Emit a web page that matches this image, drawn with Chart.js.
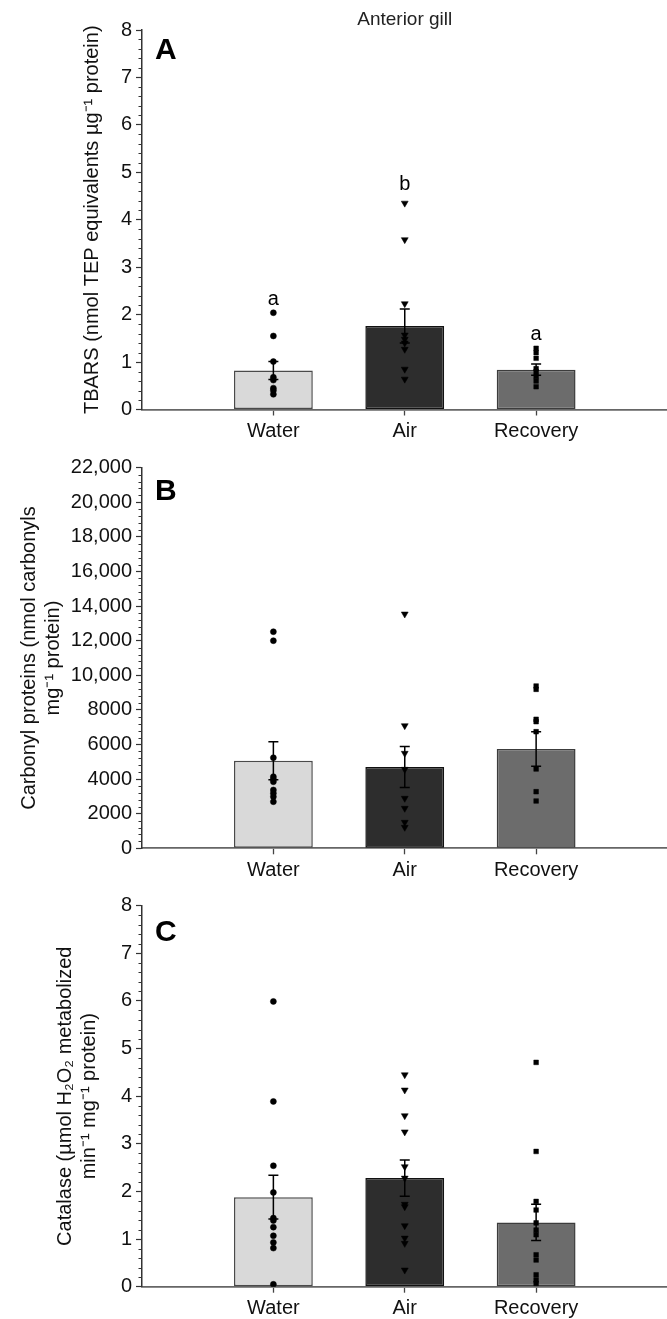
<!DOCTYPE html>
<html><head><meta charset="utf-8">
<script src="https://cdn.jsdelivr.net/npm/chart.js@4/dist/chart.umd.min.js"></script>
<style>
html,body{margin:0;padding:0;background:#fff;}
#wrap{position:relative;width:667px;height:1319px;overflow:hidden;}
canvas{position:absolute;left:0;}
</style></head><body>
<div id="wrap">
<canvas id="cA" width="672" height="446" style="top:0px"></canvas>
<canvas id="cB" width="672" height="439" style="top:446px"></canvas>
<canvas id="cC" width="672" height="434" style="top:885px"></canvas>
</div>
<script>
// ---------- DATA ----------
const categories = ['Water', 'Air', 'Recovery'];
const catPos = [1, 2, 3];

// Panel A: TBARS
const tbarsMean = [0.82, 1.76, 0.84];
const tbarsSE = [0.19, 0.36, 0.12];
const tbarsWater = [2.04, 1.55, 1.01, 0.68, 0.62, 0.45, 0.40, 0.32];
const tbarsAir = [4.35, 3.58, 2.23, 1.57, 1.48, 1.40, 1.27, 0.85, 0.64];
const tbarsRecovery = [1.29, 1.20, 1.08, 0.86, 0.80, 0.70, 0.60, 0.48];
const tbarsLetters = ['a', 'b', 'a'];
const tbarsLetterY = [2.32, 4.74, 1.59];
const tbarsTickLabels = ['0', '1', '2', '3', '4', '5', '6', '7', '8'];

// Panel B: carbonyl proteins
const carbMean = [5064, 4700, 5740];
const carbSE = [1100, 1190, 1000];
const carbWater = [12520, 12000, 5237, 4139, 3988, 3850, 3370, 3179, 2983, 2694];
const carbAir = [13543, 7087, 5491, 4566, 2890, 2312, 1503, 1214];
const carbRecovery = [9382, 9190, 7457, 7320, 6740, 4584, 3272, 2734];
const carbTickLabels = ['0', '2000', '4000', '6000', '8000', '10,000', '12,000', '14,000', '16,000', '18,000', '20,000', '22,000'];

// Panel C: catalase
const catMean = [1.88, 2.28, 1.35];
const catSE = [0.46, 0.38, 0.38];
const catWater = [5.99, 3.89, 2.54, 1.98, 1.44, 1.39, 1.25, 1.07, 0.93, 0.81, 0.05];
const catAir = [4.45, 4.13, 3.59, 3.25, 2.52, 2.28, 1.73, 1.68, 1.28, 1.02, 0.91, 0.35];
const catRecovery = [4.71, 2.84, 1.79, 1.61, 1.34, 1.19, 1.09, 0.67, 0.56, 0.25, 0.14, 0.07];
const catTickLabels = ['0', '1', '2', '3', '4', '5', '6', '7', '8'];

// ---------- STYLE ----------
const FONT = "'Liberation Sans', Arial, Helvetica, sans-serif";
const barFill = ['#d9d9d9', '#2d2d2d', '#6c6c6c'];
const barEdge = ['#4a4a4a', '#111111', '#3c3c3c'];
const pointStyles = [
  {pointStyle: 'circle', radius: 3, rotation: 0},
  {pointStyle: 'triangle', radius: 4, rotation: 180},
  {pointStyle: 'rect', radius: 3.3, rotation: 0}
];

function makeChart(id, o) {
  const groups = o.groups;
  const datasets = [{
    type: 'bar',
    data: o.mean.map((m, i) => ({x: catPos[i], y: m})),
    backgroundColor: barFill,
    borderColor: barEdge,
    borderWidth: 1.5,
    borderSkipped: false,
    barPercentage: 0.6,
    categoryPercentage: 1,
    order: 2
  }];
  groups.forEach((g, i) => {
    datasets.push(Object.assign({
      type: 'scatter',
      data: g.map(v => ({x: catPos[i], y: v})),
      backgroundColor: '#000',
      borderColor: '#000',
      borderWidth: 0.5,
      order: 0
    }, pointStyles[i]));
  });

  const deco = {
    id: 'deco_' + id,
    afterDatasetDraw(chart, args) {
      if (args.index !== 0) return;
      const {ctx, scales: {x, y}} = chart;
      ctx.save();
      ctx.strokeStyle = '#000';
      ctx.lineWidth = 1.5;
      o.mean.forEach((m, i) => {
        const px = x.getPixelForValue(catPos[i]);
        const top = y.getPixelForValue(m + o.se[i]);
        const bot = y.getPixelForValue(m - o.se[i]);
        ctx.beginPath();
        ctx.moveTo(px, top); ctx.lineTo(px, bot);
        ctx.moveTo(px - 5, top); ctx.lineTo(px + 5, top);
        ctx.moveTo(px - 5, bot); ctx.lineTo(px + 5, bot);
        ctx.stroke();
      });
      ctx.restore();
    },
    afterDraw(chart) {
      const {ctx, chartArea, scales: {x, y}} = chart;
      ctx.save();
      // minor ticks on y axis
      ctx.strokeStyle = '#333';
      ctx.lineWidth = 1;
      const nMinor = Math.round(o.yMax / o.minorStep);
      for (let k = 0; k <= nMinor; k++) {
        const v = k * o.minorStep;
        if (Math.abs(v / o.majorStep - Math.round(v / o.majorStep)) < 1e-6) continue;
        const py = Math.round(y.getPixelForValue(v)) + 0.5;
        ctx.beginPath();
        ctx.moveTo(chartArea.left - 3.5, py);
        ctx.lineTo(chartArea.left, py);
        ctx.stroke();
      }
      // panel letter
      ctx.fillStyle = '#000';
      ctx.font = 'bold 30px ' + FONT;
      ctx.textAlign = 'left';
      ctx.textBaseline = 'middle';
      ctx.fillText(o.panel, chartArea.left + 13, chartArea.top + o.panelOffset);
      // significance letters
      if (o.letters) {
        ctx.font = '20px ' + FONT;
        ctx.textAlign = 'center';
        o.letters.forEach((t, i) => {
          ctx.fillText(t, x.getPixelForValue(catPos[i]), y.getPixelForValue(o.letterY[i]));
        });
      }
      // overall heading
      if (o.heading) {
        ctx.font = '19px ' + FONT;
        ctx.textAlign = 'center';
        ctx.fillStyle = '#222';
        ctx.fillText(o.heading, (chartArea.left + chartArea.right) / 2, 20);
      }
      ctx.restore();
    }
  };

  return new Chart(document.getElementById(id), {
    type: 'bar',
    data: {datasets},
    plugins: [deco],
    options: {
      responsive: false,
      devicePixelRatio: 1,
      animation: false,
      events: [],
      layout: {padding: {top: o.padTop, left: 0, right: 0, bottom: 0}},
      plugins: {legend: {display: false}, tooltip: {enabled: false}, title: {display: false}},
      scales: {
        x: {
          type: 'linear', min: 0, max: 4, offset: false,
          afterBuildTicks: s => { s.ticks = catPos.map(v => ({value: v})); },
          afterFit: s => { s.height = o.xHeight; },
          ticks: {
            callback: (v, i) => categories[i],
            font: {family: FONT, size: 20}, color: '#111', padding: 4,
            maxRotation: 0, autoSkip: false
          },
          grid: {drawOnChartArea: false, offset: false, tickLength: 6, tickColor: '#444', tickWidth: 1.3},
          border: {display: true, color: '#666', width: 1.8}
        },
        y: {
          type: 'linear', min: 0, max: o.yMax,
          afterBuildTicks: s => { s.ticks = o.tickLabels.map((t, i) => ({value: i * o.majorStep})); },
          afterFit: s => { s.width = 142; },
          ticks: {
            callback: (v, i) => o.tickLabels[i],
            font: {family: FONT, size: 20}, color: '#111', padding: 4
          },
          grid: {drawOnChartArea: false, tickLength: 6, tickColor: '#333', tickWidth: 1.2},
          border: {display: true, color: '#333', width: 1.5},
          title: {
            display: true, text: o.title, color: '#111',
            font: {family: FONT, size: 20, lineHeight: 1.2},
            padding: {top: o.titlePad, bottom: 0}
          }
        }
      }
    }
  });
}

makeChart('cA', {
  mean: tbarsMean, se: tbarsSE, groups: [tbarsWater, tbarsAir, tbarsRecovery],
  yMax: 8, majorStep: 1, minorStep: 0.2, tickLabels: tbarsTickLabels,
  title: 'TBARS (nmol TEP equivalents \u00b5g\u207b\u00b9 protein)', titlePad: 80,
  panel: 'A', panelOffset: 21, letters: tbarsLetters, letterY: tbarsLetterY,
  heading: 'Anterior gill', padTop: 30, xHeight: 36.5
});
makeChart('cB', {
  mean: carbMean, se: carbSE, groups: [carbWater, carbAir, carbRecovery],
  yMax: 22000, majorStep: 2000, minorStep: 400, tickLabels: carbTickLabels,
  title: ['Carbonyl proteins (nmol carbonyls', 'mg\u207b\u00b9 protein)'], titlePad: 17,
  panel: 'B', panelOffset: 24, padTop: 21.7, xHeight: 36.7
});
makeChart('cC', {
  mean: catMean, se: catSE, groups: [catWater, catAir, catRecovery],
  yMax: 8, majorStep: 1, minorStep: 0.2, tickLabels: catTickLabels,
  title: ['Catalase (\u00b5mol H\u2082O\u2082 metabolized', 'min\u207b\u00b9 mg\u207b\u00b9 protein)'], titlePad: 53,
  panel: 'C', panelOffset: 27, padTop: 20.7, xHeight: 32.3
});
</script>
</body></html>
